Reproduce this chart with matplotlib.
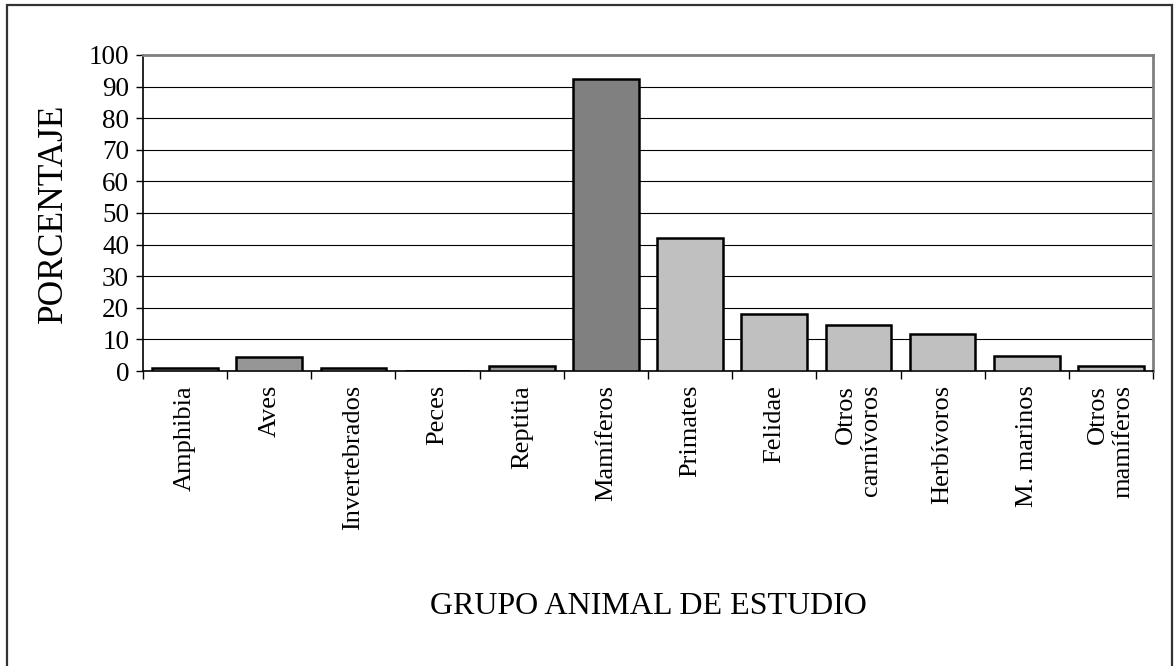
import matplotlib
matplotlib.use("Agg")
import matplotlib.pyplot as plt
import numpy as np
from matplotlib.patches import Rectangle

## porcentaje de estudios por grupo animal

grupos = ["Amphibia", "Aves", "Invertebrados", "Peces", "Reptitia", "Mamíferos",
          "Primates", "Felidae", "Otros\ncarnívoros", "Herbívoros", "M. marinos",
          "Otros\nmamíferos"]
porcentaje = [0.8, 4.4, 0.8, 0.0, 1.7, 92.3, 42.0, 17.9, 14.5, 11.6, 4.7, 1.6]
colores = ["#969696"] * 5 + ["#808080"] + ["#c0c0c0"] * 6
yticks = list(range(0, 110, 10))

plt.rcParams["font.family"] = ["Liberation Serif", "DejaVu Serif"]

fig = plt.figure(figsize=(11.75, 6.66), dpi=100)
ax = fig.add_axes([143 / 1175, 1 - 371 / 666, 1010 / 1175, 316 / 666])

x = np.arange(len(grupos))
ax.bar(x, porcentaje, width=0.78, color=colores, edgecolor="black",
       linewidth=1.8, zorder=3)

ax.set_xlim(-0.5, len(grupos) - 0.5)
ax.set_ylim(0, 100)
ax.set_yticks(yticks)
ax.set_yticklabels([str(v) for v in yticks], fontsize=19.5)
ax.grid(axis="y", color="black", linewidth=0.8, zorder=0)

# labels at bar centres, tick marks between categories
ax.set_xticks(x)
ax.set_xticklabels(grupos, rotation=90, fontsize=19, va="top", ha="center",
                   multialignment="right")
ax.set_xticks(np.arange(-0.5, len(grupos)), minor=True)
ax.tick_params(axis="x", which="major", length=0, pad=10)
ax.tick_params(axis="x", which="minor", length=6, width=1, color="black")
ax.tick_params(axis="y", length=5, width=1, pad=5)

for s in ["top", "right"]:
    ax.spines[s].set_color("#808080")
    ax.spines[s].set_linewidth(2)
for s in ["left", "bottom"]:
    ax.spines[s].set_color("black")
    ax.spines[s].set_linewidth(1.2)

ax.set_ylabel("PORCENTAJE", fontsize=25.5)
ax.yaxis.set_label_coords(-0.072, 0.5)

fig.text(648 / 1175, 1 - 607 / 666, "GRUPO ANIMAL DE ESTUDIO", fontsize=23,
         ha="center", va="center")

# marco exterior
fig.patches.append(Rectangle((7 / 1175, -0.02), 1165 / 1175, 1.02 - 5 / 666,
                             transform=fig.transFigure, fill=False,
                             edgecolor="#333333", linewidth=1.6))

fig.savefig("out.png", dpi=100)
